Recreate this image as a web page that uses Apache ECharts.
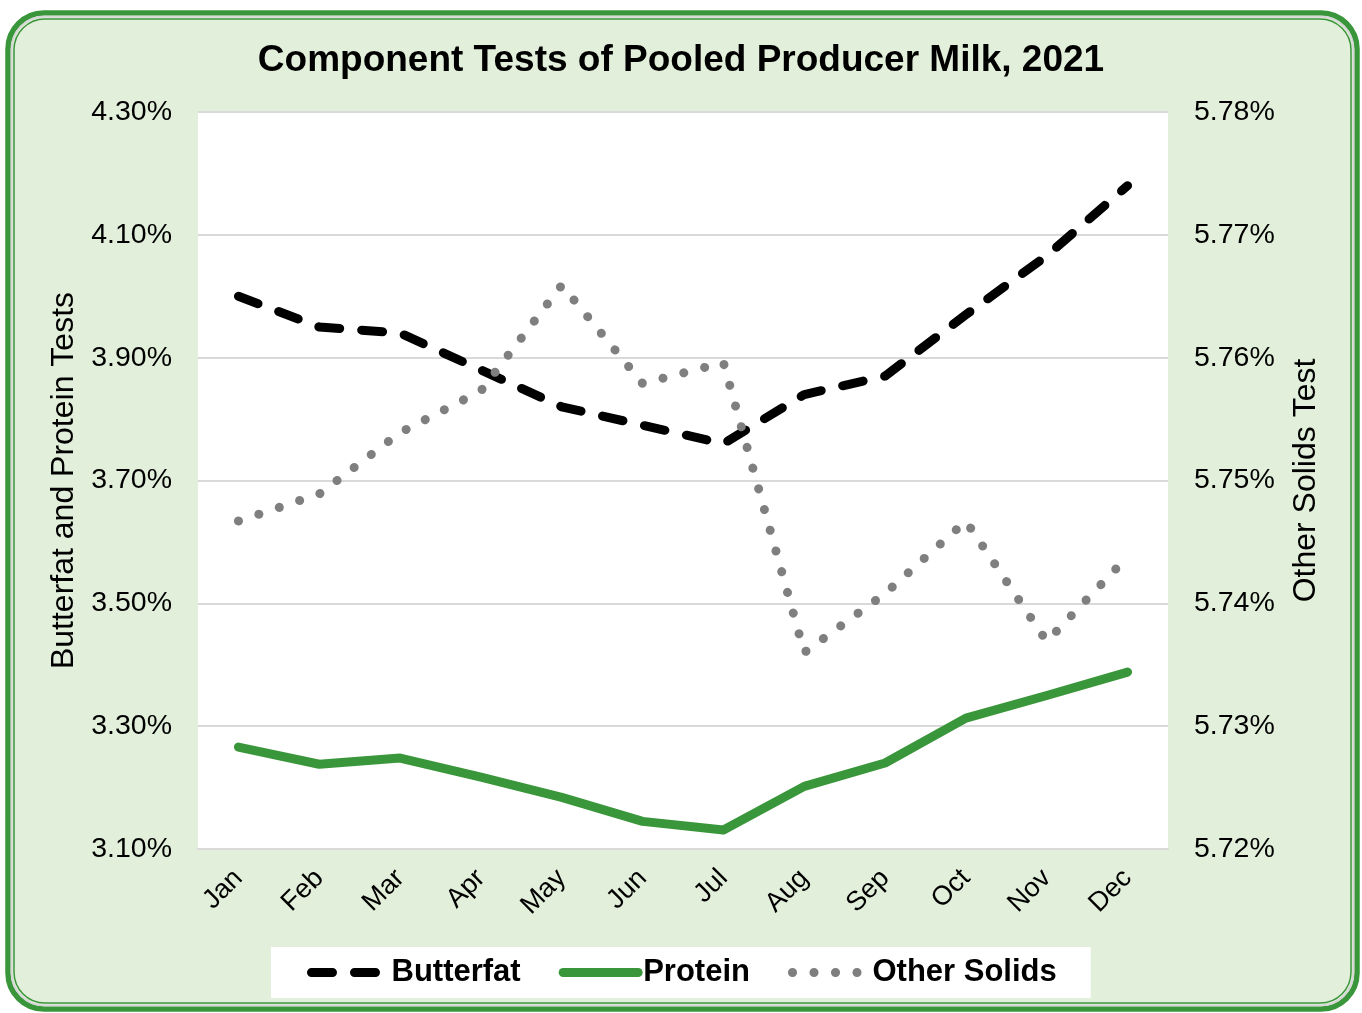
<!DOCTYPE html>
<html>
<head>
<meta charset="utf-8">
<script src="https://cdn.jsdelivr.net/npm/echarts@6/dist/echarts.min.js"></script>
<style>
  html, body { margin: 0; padding: 0; background: #fff; }
  #main { width: 1362px; height: 1013px; }
</style>
</head>
<body>
<div id="main"></div>
<script>
// values
const months = ['Jan', 'Feb', 'Mar', 'Apr', 'May', 'Jun', 'Jul', 'Aug', 'Sep', 'Oct', 'Nov', 'Dec']
const butterfat = [4.00, 3.95, 3.94, 3.88, 3.82, 3.79, 3.76, 3.84, 3.87, 3.97, 4.066, 4.18]
const protein = [3.266, 3.238, 3.248, 3.217, 3.184, 3.145, 3.131, 3.202, 3.240, 3.313, 3.350, 3.388]
const otherSolids = [5.7467, 5.7489, 5.7539, 5.7573, 5.7659, 5.7579, 5.7596, 5.7360, 5.7408, 5.7467, 5.7369, 5.7438]
const leftTicks = ['3.10%', '3.30%', '3.50%', '3.70%', '3.90%', '4.10%', '4.30%']
const rightTicks = ['5.72%', '5.73%', '5.74%', '5.75%', '5.76%', '5.77%', '5.78%']

const font = 'Liberation Sans, Arial, sans-serif'
const green = '#3A963A'

const chart = echarts.init(document.getElementById('main'))

const option = {
  backgroundColor: '#fff',
  textStyle: { fontFamily: font },
  graphic: [
    {
      type: 'rect', z: -100, silent: true,
      shape: { x: 8, y: 13, width: 1349, height: 996, r: 36 },
      style: { fill: '#E2EFDA', stroke: green, lineWidth: 5.5 }
    },
    {
      type: 'rect', z: -99, silent: true,
      shape: { x: 11.5, y: 16.5, width: 1342, height: 989, r: 33 },
      style: { fill: 'none', stroke: '#D6D6D6', lineWidth: 2 }
    },
    {
      type: 'rect', z: -98, silent: true,
      shape: { x: 14, y: 19, width: 1337, height: 984, r: 31 },
      style: { fill: 'none', stroke: green, lineWidth: 1.5 }
    }
  ],
  title: {
    text: 'Component Tests of Pooled Producer Milk, 2021',
    left: 'center',
    top: 37,
    textStyle: { fontFamily: font, fontSize: 37, fontWeight: 'bold', color: '#000' }
  },
  legend: {
    data: ['Butterfat', 'Protein', 'Other Solids'],
    left: 271,
    top: 947,
    backgroundColor: '#fff',
    padding: [10, 34, 10, 36],
    itemGap: 38,
    itemWidth: 75,
    itemHeight: 14,
    lineStyle: { width: 'inherit', type: 'inherit', cap: 'round' },
    itemStyle: { opacity: 0 },
    textStyle: { fontFamily: font, fontSize: 31, fontWeight: 'bold', color: '#000' }
  },
  grid: {
    left: 198,
    right: 194,
    top: 112,
    bottom: 164,
    show: true,
    backgroundColor: '#fff',
    borderWidth: 0
  },
  xAxis: {
    type: 'category',
    data: months,
    boundaryGap: true,
    axisTick: { show: false },
    axisLine: { lineStyle: { color: '#D9D9D9', width: 2 } },
    axisLabel: { rotate: 45, margin: 25, fontSize: 27, color: '#000', fontFamily: font }
  },
  yAxis: [
    {
      type: 'value',
      min: 3.1,
      max: 4.3,
      interval: 0.1,
      name: 'Butterfat and Protein Tests',
      nameLocation: 'middle',
      nameGap: 118,
      nameTextStyle: { fontSize: 32, color: '#000', fontFamily: font },
      axisLine: { show: false },
      axisTick: { show: false },
      splitLine: { show: false },
      axisLabel: {
        margin: 26,
        fontSize: 28.5,
        color: '#000',
        fontFamily: font,
        padding: [4, 0, 0, 0],
        formatter: function (value) {
          const i = Math.round((value - 3.1) / 0.1)
          return i % 2 === 0 ? leftTicks[i / 2] : ''
        }
      }
    },
    {
      type: 'value',
      min: 5.72,
      max: 5.78,
      interval: 0.01,
      name: 'Other Solids Test',
      nameLocation: 'middle',
      nameGap: 122,
      nameTextStyle: { fontSize: 32, color: '#000', fontFamily: font },
      axisLine: { show: false },
      axisTick: { show: false },
      splitLine: { show: true, lineStyle: { color: '#D9D9D9', width: 2 } },
      axisLabel: {
        margin: 26,
        fontSize: 28.5,
        color: '#000',
        fontFamily: font,
        padding: [4, 0, 0, 0],
        formatter: function (value) {
          return rightTicks[Math.round((value - 5.72) / 0.01)]
        }
      }
    }
  ],
  series: [
    {
      name: 'Butterfat',
      type: 'line',
      yAxisIndex: 0,
      data: butterfat,
      symbol: 'none',
      color: '#000',
      lineStyle: { color: '#000', width: 9, type: [21, 22], cap: 'round', join: 'round' }
    },
    {
      name: 'Protein',
      type: 'line',
      yAxisIndex: 0,
      data: protein,
      symbol: 'none',
      color: green,
      lineStyle: { color: green, width: 9, cap: 'round', join: 'round' }
    },
    {
      name: 'Other Solids',
      type: 'line',
      yAxisIndex: 1,
      data: otherSolids,
      symbol: 'none',
      color: '#7F7F7F',
      lineStyle: { color: '#7F7F7F', width: 9, type: [0.1, 21.4], cap: 'round', join: 'round' }
    }
  ]
}

chart.setOption(option)
</script>
</body>
</html>
